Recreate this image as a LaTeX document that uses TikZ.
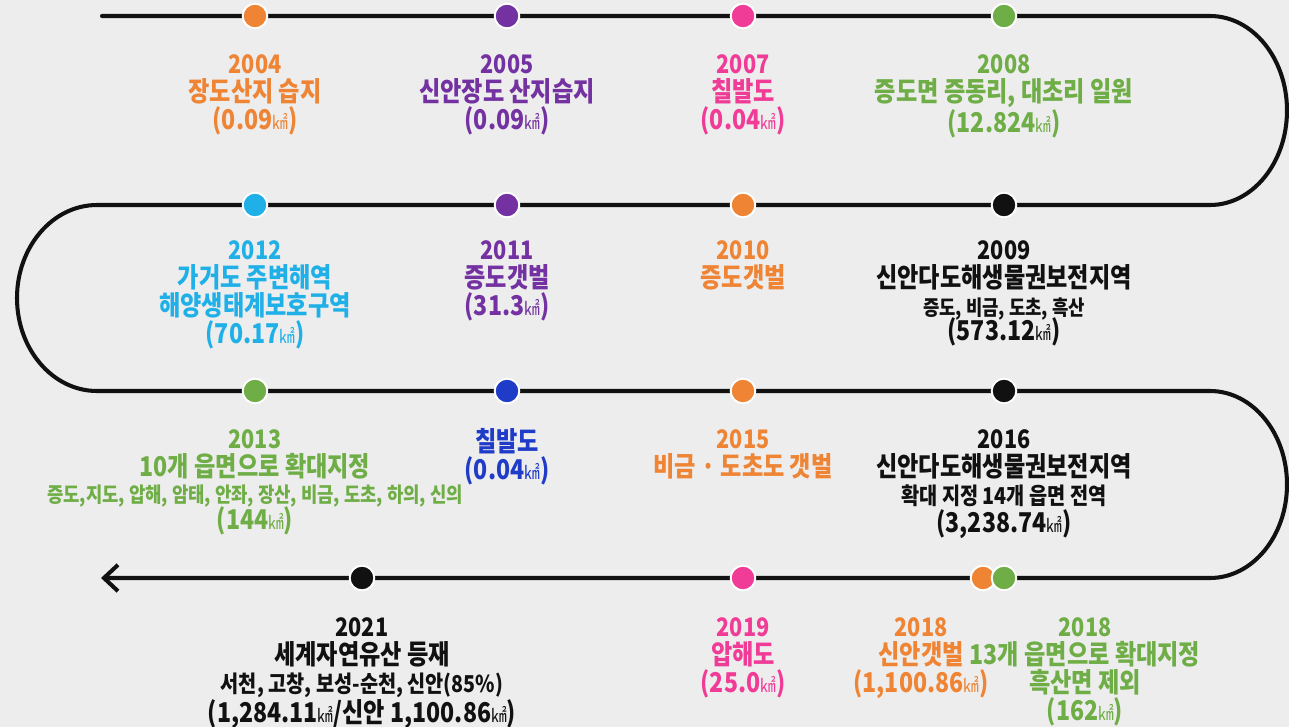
\documentclass[tikz,border=0pt]{standalone}
\usepackage{fontspec}
\usepackage{xcolor}
\usetikzlibrary{arrows.meta}
\newfontfamily\krfont{Noto Sans CJK KR}[FakeStretch=0.85]
\definecolor{colorBg}{HTML}{EDEDED}
\definecolor{colorO}{HTML}{EE8434}
\definecolor{colorP}{HTML}{7331A1}
\definecolor{colorK}{HTML}{F03C96}
\definecolor{colorG}{HTML}{6FAD46}
\definecolor{colorC}{HTML}{1FB0E8}
\definecolor{colorB}{HTML}{1E3CC8}
\definecolor{colorD}{HTML}{111111}
\newcommand{\km}{{\mdseries\fontsize{10.5}{12}\selectfont ㎢}}
\newcommand{\yr}[1]{{\fontsize{14.5}{16}\selectfont #1}}
\newcommand{\sm}{\fontsize{11.9}{16}\selectfont}
\newcommand{\md}{\fontsize{13.2}{16}\selectfont}

\begin{document}
\begin{tikzpicture}[x=0.02cm, y=-0.02cm,
    timeline/.style={line width=2.3pt, colorD, line cap=round},
    dot/.style={circle, fill=#1, draw=white, line width=1.1pt, minimum size=14pt, inner sep=0pt},
    event/.style={align=center, anchor=north, inner sep=0pt, text=#1,
        font=\krfont\bfseries\fontsize{15.5}{16}\selectfont}]
        \useasboundingbox (0,0) rectangle (1289,727);
        \fill[colorBg] (0,0) rectangle (1289,727);
        % timeline
        \coordinate (tStart) at (102,16);
        \coordinate (tEnd) at (101,578);
        \draw[timeline, -{Straight Barb[length=8pt, width=15pt]}] (tStart) -- (1210,16)
            arc[start angle=-90, end angle=90, x radius=77, y radius=94.5] -- (97,205)
            arc[start angle=-90, end angle=-270, x radius=80, y radius=93] -- (1210,391)
            arc[start angle=-90, end angle=90, x radius=77, y radius=93.5] -- (tEnd);
        % dots
        \node[dot=colorO] (d2004) at (255,16) {};
        \node[dot=colorP] (d2005) at (507,16) {};
        \node[dot=colorK] (d2007) at (743,16) {};
        \node[dot=colorG] (d2008) at (1004,16) {};
        \node[dot=colorC] (d2012) at (255,205) {};
        \node[dot=colorP] (d2011) at (507,205) {};
        \node[dot=colorO] (d2010) at (743,205) {};
        \node[dot=colorD] (d2009) at (1004,205) {};
        \node[dot=colorG] (d2013) at (255,391) {};
        \node[dot=colorB] (dChil) at (507,391) {};
        \node[dot=colorO] (d2015) at (743,391) {};
        \node[dot=colorD] (d2016) at (1004,391) {};
        \node[dot=colorD] (d2021) at (362,578) {};
        \node[dot=colorK] (d2019) at (743,578) {};
        \node[dot=colorO] (d2018a) at (983,578) {};
        \node[dot=colorG] (d2018b) at (1004,578) {};
        % row 1
        \node[event=colorO] (e2004) at (255,54) {\yr{2004}\\장도산지 습지\\(0.09\km)};
        \node[event=colorP] (e2005) at (507,54) {\yr{2005}\\신안장도 산지습지\\(0.09\km)};
        \node[event=colorK] (e2007) at (743,54) {\yr{2007}\\칠발도\\(0.04\km)};
        \node[event=colorG] (e2008) at (1004,54) {\yr{2008}\\증도면 증동리, 대초리 일원\\(12.824\km)};
        % row 2
        \node[event=colorC] (e2012) at (255,240) {\yr{2012}\\가거도 주변해역\\해양생태계보호구역\\(70.17\km)};
        \node[event=colorP] (e2011) at (507,240) {\yr{2011}\\증도갯벌\\(31.3\km)};
        \node[event=colorO] (e2010) at (743,240) {\yr{2010}\\증도갯벌};
        \node[event=colorD] (e2009) at (1004,240) {\yr{2009}\\신안다도해생물권보전지역\\{\sm 증도, 비금, 도초, 흑산}\\[-1.5pt](573.12\km)};
        % row 3
        \node[event=colorG] (e2013) at (255,429) {\yr{2013}\\10개 읍면으로 확대지정\\[-1pt]{\sm 증도,지도, 압해, 암태, 안좌, 장산, 비금, 도초, 하의, 신의}\\[-1pt](144\km)};
        \node[event=colorB] (eChil) at (507,428) {칠발도\\(0.04\km)};
        \node[event=colorO] (e2015) at (743,429) {\yr{2015}\\비금 · 도초도 갯벌};
        \node[event=colorD] (e2016) at (1004,429) {\yr{2016}\\신안다도해생물권보전지역\\{\md 확대 지정 14개 읍면 전역}\\(3,238.74\km)};
        % row 4
        \node[event=colorD] (e2021) at (362,617) {\yr{2021}\\세계자연유산 등재\\{\md 서천, 고창, 보성-순천, 신안(85\%)}\\(1,284.11\km/신안 1,100.86\km)};
        \node[event=colorK] (e2019) at (743,617) {\yr{2019}\\압해도\\(25.0\km)};
        \node[event=colorO] (e2018a) at (921,617) {\yr{2018}\\신안갯벌\\(1,100.86\km)};
        \node[event=colorG] (e2018b) at (1085,617) {\yr{2018}\\13개 읍면으로 확대지정\\흑산면 제외\\(162\km)};
    \end{tikzpicture}
\end{document}
